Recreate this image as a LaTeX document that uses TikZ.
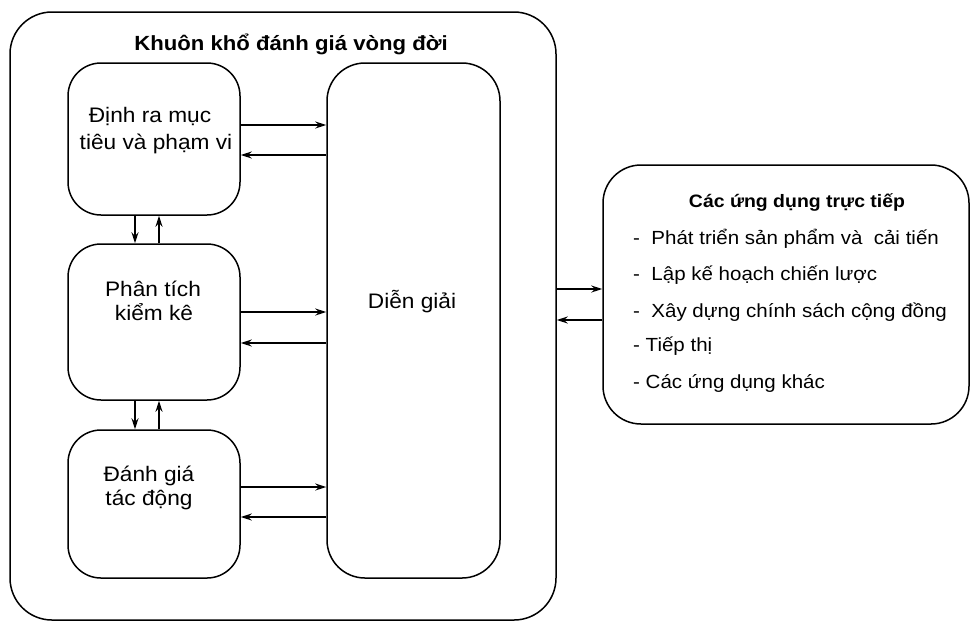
\documentclass[tikz,border=0pt]{standalone}
\usepackage{fontspec}
\setmainfont{Liberation Sans}[FakeStretch=1.08]
\usetikzlibrary{arrows.meta}
\begin{document}
\begin{tikzpicture}[x=1pt,y=-1pt,
  box/.style={draw, line width=1.5pt, rounded corners=33pt, inner sep=0pt},
  arr/.style={line width=1.2pt, -{Stealth[length=11pt,width=7pt]}},
  boxtext/.style={anchor=base, inner sep=0pt, font=\fontsize{21}{25}\selectfont},
  bigtitle/.style={anchor=base, inner sep=0pt, font=\fontsize{20.5}{25}\selectfont\bfseries},
  apptitle/.style={anchor=base, inner sep=0pt, font=\fontsize{18}{22}\selectfont\bfseries},
  appitem/.style={anchor=base west, inner sep=0pt, font=\fontsize{19}{23}\selectfont}
]
\useasboundingbox (0,0) rectangle (973,622);

% level coordinates
\coordinate (y125) at (0,125);
\coordinate (y155) at (0,155);
\coordinate (y312) at (0,312);
\coordinate (y343) at (0,343);
\coordinate (y487) at (0,487);
\coordinate (y517) at (0,517);
\coordinate (y289) at (0,289);
\coordinate (y320) at (0,320);
\coordinate (x135) at (135,0);
\coordinate (x159) at (159,0);

% boxes
\node[box, rounded corners=42pt, minimum width=546pt, minimum height=608pt] (outer) at (283,316) {};
\node[box, minimum width=172pt, minimum height=152pt] (b1) at (154,139) {};
\node[box, minimum width=172pt, minimum height=156pt] (b2) at (154,322) {};
\node[box, minimum width=172pt, minimum height=148pt] (b3) at (154,504) {};
\node[box, rounded corners=38pt, minimum width=173pt, minimum height=515pt] (dg) at (413.5,320.5) {};
\node[box, rounded corners=38pt, minimum width=366pt, minimum height=259pt] (app) at (786,294.5) {};

% texts
\node[bigtitle] (title) at (291,50) {Khuôn khổ đánh giá vòng đời};
\node[boxtext] (t1a) at (150,122) {Định ra mục};
\node[boxtext] (t1b) at (156,149) {tiêu và phạm vi};
\node[boxtext] (t2a) at (153,296) {Phân tích};
\node[boxtext] (t2b) at (154,320) {kiểm kê};
\node[boxtext] (t3a) at (149,481) {Đánh giá};
\node[boxtext] (t3b) at (149,505) {tác động};
\node[boxtext] (tdg) at (412,308) {Diễn giải};
\node[apptitle] (tapp) at (797,207) {Các ứng dụng trực tiếp};
\node[appitem] (i1) at (633,244) {-\ \ Phát triển sản phẩm và\ \ cải tiến};
\node[appitem] (i2) at (633,280) {-\ \ Lập kế hoạch chiến lược};
\node[appitem] (i3) at (633,317) {-\ \ Xây dựng chính sách cộng đồng};
\node[appitem] (i4) at (633,351) {- Tiếp thị};
\node[appitem] (i5) at (633,388) {- Các ứng dụng khác};

% horizontal arrows
\draw[arr] (b1.east |- y125) -- (dg.west |- y125);
\draw[arr] (dg.west |- y155) -- (b1.east |- y155);
\draw[arr] (b2.east |- y312) -- (dg.west |- y312);
\draw[arr] (dg.west |- y343) -- (b2.east |- y343);
\draw[arr] (b3.east |- y487) -- (dg.west |- y487);
\draw[arr] (dg.west |- y517) -- (b3.east |- y517);
\draw[arr] (outer.east |- y289) -- (app.west |- y289);
\draw[arr] (app.west |- y320) -- (outer.east |- y320);

% vertical arrows
\draw[arr] (b1.south -| x135) -- (b2.north -| x135);
\draw[arr] (b2.north -| x159) -- (b1.south -| x159);
\draw[arr] (b2.south -| x135) -- (b3.north -| x135);
\draw[arr] (b3.north -| x159) -- (b2.south -| x159);
\end{tikzpicture}
\end{document}
